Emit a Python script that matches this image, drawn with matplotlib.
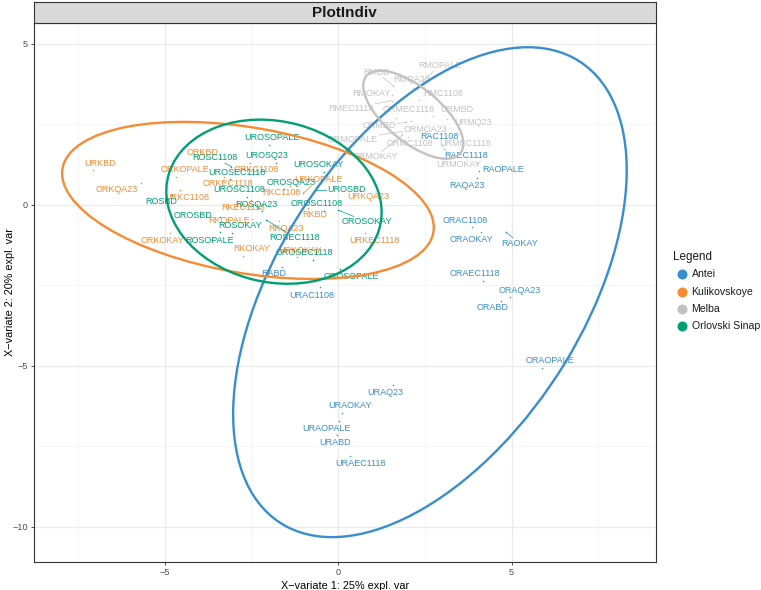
import matplotlib
matplotlib.use('Agg')
import matplotlib.pyplot as plt
from matplotlib.patches import Ellipse
from matplotlib.lines import Line2D
import numpy as np

plt.rcParams['font.family'] = ['Liberation Sans', 'DejaVu Sans']

# ---------------- data ----------------
groups = ['Antei', 'Kulikovskoye', 'Melba', 'Orlovski Sinap']
colors = ['#388ECC', '#F68B33', '#C2C2C2', '#009E73']

antei_names = ['RAC1108', 'RAEC1118', 'RAOPALE', 'RAQA23', 'RAOKAY', 'RABD',
               'ORAC1108', 'ORAOKAY', 'ORAEC1118', 'ORAQA23', 'ORABD', 'ORAOPALE',
               'URAC1108', 'URAQ23', 'URAOKAY', 'URAOPALE', 'URABD', 'URAEC1118']
antei_x = [3.00, 3.99, 4.07, 3.99, 4.84, -1.62, 3.85, 4.12, 4.18, 4.95, 4.69, 5.87,
           -0.52, 1.59, 0.11, 0.03, -0.04, 0.35]
antei_y = [1.85, 1.31, 1.04, 0.85, -0.85, -1.94, -0.70, -0.83, -2.35, -2.87, -2.97, -5.06,
           -2.56, -5.59, -6.45, -6.71, -7.14, -7.79]
antei_lx = [2.91, 3.70, 4.75, 3.71, 5.24, -1.86, 3.66, 3.85, 3.95, 5.22, 4.45, 6.11,
            -0.76, 1.37, 0.33, -0.35, -0.09, 0.63]
antei_ly = [2.12, 1.55, 1.09, 0.60, -1.19, -2.14, -0.49, -1.07, -2.14, -2.65, -3.19, -4.82,
            -2.80, -5.82, -6.23, -6.93, -7.38, -8.02]

kuli_names = ['URKBD', 'ORKQA23', 'ORKBD', 'ORKOPALE', 'URKC1108', 'ORKOKAY',
              'ORKC1108', 'ORKEC1118', 'URKOPALE', 'RKC1108', 'RKEC1118', 'URKQA23',
              'RKBD', 'RKOPALE', 'RKQA23', 'RKOKAY', 'URKEC1118', 'URKOKAY']
kuli_x = [-7.07, -5.67, -4.05, -4.68, -4.57, -4.84, -2.55, -3.30, -1.01, -1.40, -2.50, 0.62,
          -0.88, -2.47, -1.70, -2.74, 0.78, -1.19]
kuli_y = [1.09, 0.68, 1.42, 0.88, 0.45, -0.87, 1.30, 0.87, 0.36, 0.58, 0.14, 0.47,
          -0.10, -0.45, -0.50, -1.58, -0.86, -1.62]
kuli_lx = [-6.86, -6.37, -3.92, -4.42, -4.35, -5.05, -2.36, -3.17, -0.58, -1.63, -2.74, 0.86,
           -0.67, -3.14, -1.51, -2.50, 1.04, -1.11]
kuli_ly = [1.29, 0.48, 1.62, 1.10, 0.22, -1.09, 1.11, 0.67, 0.80, 0.38, -0.07, 0.25,
           -0.31, -0.49, -0.72, -1.35, -1.09, -1.43]

melba_names = ['RMOPALE', 'RMBD', 'RMQA23', 'RMOKAY', 'RMC1108', 'RMEC1118',
               'ORMEC1118', 'URMBD', 'URMQ23', 'ORMBD', 'ORMQA23', 'ORMOPALE',
               'ORMC1108', 'URMEC1118', 'ORMOKAY', 'URMOKAY']
melba_x = [2.45, 1.59, 2.15, 1.55, 2.33, 1.54, 1.68, 2.74, 3.13, 1.95, 2.10, 1.83,
           2.02, 3.20, 1.85, 3.05]
melba_y = [3.85, 3.70, 3.62, 3.42, 3.26, 3.24, 2.71, 2.76, 2.67, 2.56, 2.62, 2.28,
           2.10, 2.15, 2.17, 1.75]
melba_lx = [2.93, 1.10, 2.12, 0.96, 3.03, 0.38, 2.02, 3.43, 3.89, 1.20, 2.53, 0.43,
            2.07, 3.65, 1.06, 3.47]
melba_ly = [4.33, 4.12, 3.88, 3.47, 3.47, 3.00, 2.97, 2.97, 2.57, 2.48, 2.35, 2.04,
            1.92, 1.92, 1.49, 1.26]

orlov_names = ['UROSOPALE', 'ROSC1108', 'UROSQ23', 'UROSEC1118', 'UROSOKAY', 'UROSC1108',
               'OROSQA23', 'UROSBD', 'ROSQA23', 'OROSC1108', 'OROSOKAY', 'ROSBD',
               'OROSBD', 'ROSOPALE', 'ROSOKAY', 'ROSEC1118', 'OROSEC1118', 'OROSOPALE']
orlov_x = [-1.99, -3.08, -1.78, -3.12, -0.42, -2.62, -1.55, -0.63, -2.20, -0.40, 0.00, -4.78,
           -3.41, -3.41, -3.05, -2.07, -0.72, 0.06]
orlov_y = [1.86, 1.19, 1.29, 0.80, 1.03, 0.26, 0.50, 0.47, -0.20, -0.18, -0.16, 0.31,
           -0.38, -0.85, -0.86, -0.47, -1.71, -2.00]
orlov_lx = [-1.90, -3.56, -2.07, -2.91, -0.58, -2.86, -1.35, 0.24, -2.36, -0.61, 0.84, -5.10,
            -4.18, -3.70, -2.82, -1.25, -0.96, 0.37]
orlov_ly = [2.10, 1.47, 1.52, 1.00, 1.26, 0.47, 0.70, 0.47, 0.00, 0.03, -0.53, 0.10,
            -0.33, -1.09, -0.65, -1.01, -1.48, -2.23]

# confidence ellipses: centre x, centre y, semi-major, semi-minor, angle (deg)
ell_cx = [2.645, -2.60, 2.165, -1.85]
ell_cy = [-2.71, 0.14, 2.80, 0.10]
ell_a = [8.37, 5.435, 1.81, 3.15]
ell_b = [4.47, 2.256, 0.82, 2.49]
ell_ang = [60.45, -10.8, -42.7, -16.4]

xlab = 'X\u2212variate 1: 25% expl. var'
ylab = 'X\u2212variate 2: 20% expl. var'
title = 'PlotIndiv'

# ---------------- figure ----------------
W, H = 761, 590
fig = plt.figure(figsize=(W / 100, H / 100), dpi=100)
pl, pr, pt, pb = 33.5, 656, 23, 562
ax = fig.add_axes([pl / W, 1 - pb / H, (pr - pl) / W, (pb - pt) / H])
sax = fig.add_axes([pl / W, 1 - pt / H, (pr - pl) / W, (pt - 1.5) / H])

ax.set_xlim(-8.78, 9.16)
ax.set_ylim(-11.09, 5.65)
ax.set_xticks([-5, 0, 5])
ax.set_yticks([5, 0, -5, -10])
ax.set_xticks([-7.5, -2.5, 2.5, 7.5], minor=True)
ax.set_yticks([2.5, -2.5, -7.5], minor=True)
ax.set_xticklabels(['\u22125', '0', '5'])
ax.set_yticklabels(['5', '0', '\u22125', '\u221210'])
ax.grid(which='major', color='#EBEBEB', lw=0.9, zorder=0)
ax.grid(which='minor', color='#F2F2F2', lw=0.5, zorder=0)
ax.set_axisbelow(True)
ax.tick_params(which='major', length=2.5, width=0.6, color='#333333',
               labelsize=6.6, labelcolor='#4D4D4D', pad=1.5)
ax.tick_params(which='minor', length=0)
for s in ax.spines.values():
    s.set_color('#333333')
    s.set_linewidth(0.8)
ax.set_xlabel(xlab, fontsize=7.8, labelpad=3)
ax.set_ylabel(ylab, fontsize=7.8)
ax.yaxis.set_label_coords((15 - pl) / (pr - pl), 0.5)

sax.set_facecolor('#D9D9D9')
sax.set_xticks([])
sax.set_yticks([])
for s in sax.spines.values():
    s.set_color('#333333')
    s.set_linewidth(0.8)
sax.text(0.5, (pt - 17.3) / (pt - 1.5), title, ha='center', va='baseline', fontsize=11.0,
         fontweight='bold', color='#1A1A1A', transform=sax.transAxes)

sets = [
    (antei_names, antei_x, antei_y, antei_lx, antei_ly),
    (kuli_names, kuli_x, kuli_y, kuli_lx, kuli_ly),
    (melba_names, melba_x, melba_y, melba_lx, melba_ly),
    (orlov_names, orlov_x, orlov_y, orlov_lx, orlov_ly),
]

texts = []
for gi, (names, xs, ys, lxs, lys) in enumerate(sets):
    c = colors[gi]
    ax.scatter(xs, ys, s=1.2, color=c, zorder=3, linewidths=0)
    for n, x, y, lx, ly in zip(names, xs, ys, lxs, lys):
        t = ax.text(lx, ly, n, ha='center', va='center', fontsize=6.5, color=c, zorder=3)
        texts.append((t, x, y, c))

# segments from points to the label boxes (ggrepel style)
fig.canvas.draw()
r = fig.canvas.get_renderer()
inv = ax.transData.inverted()
for t, x, y, c in texts:
    bb = t.get_window_extent(r)
    px, py = ax.transData.transform((x, y))
    cx, cy = (bb.x0 + bb.x1) / 2, (bb.y0 + bb.y1) / 2
    hw, hh = bb.width / 2 + 1, bb.height / 2 + 1
    dx, dy = px - cx, py - cy
    if abs(dx) <= hw and abs(dy) <= hh:
        continue
    f = min(hw / abs(dx) if dx != 0 else np.inf, hh / abs(dy) if dy != 0 else np.inf)
    ex, ey = cx + dx * f, cy + dy * f
    if np.hypot(px - ex, py - ey) < 7:
        continue
    p0 = inv.transform((px, py))
    p1 = inv.transform((ex, ey))
    ax.plot([p0[0], p1[0]], [p0[1], p1[1]], color=c, lw=0.5, zorder=3)

for gi in range(4):
    e = Ellipse((ell_cx[gi], ell_cy[gi]), 2 * ell_a[gi], 2 * ell_b[gi], angle=ell_ang[gi],
                fill=False, edgecolor=colors[gi], lw=1.7, zorder=4)
    ax.add_patch(e)

# legend
fig.text(672.5 / W, 1 - 257 / H, 'Legend', fontsize=8.4, va='center', ha='left', color='#1A1A1A')
for gi, g in enumerate(groups):
    yy = 1 - (274.3 + gi * 17.3) / H
    fig.add_artist(Line2D([681.7 / W], [yy], marker='o', markersize=6.2, color=colors[gi],
                          linestyle='none', transform=fig.transFigure))
    fig.text(691.5 / W, yy, g, fontsize=7.6, va='center', ha='left', color='#1A1A1A')

fig.savefig('out.png', dpi=100)
